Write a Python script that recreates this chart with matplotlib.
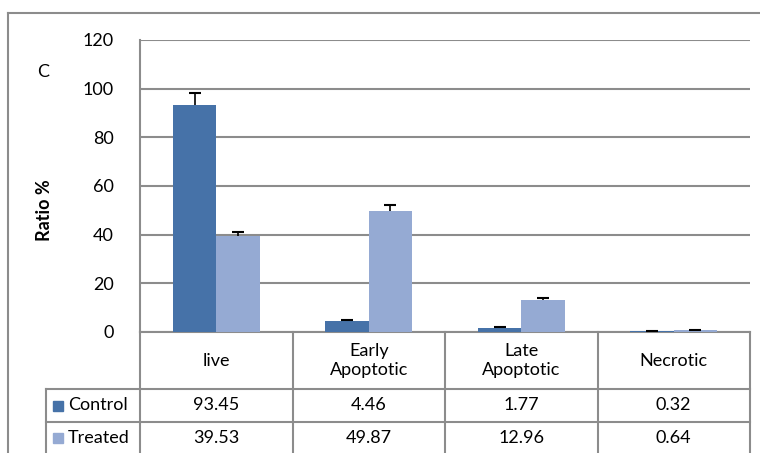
import matplotlib
matplotlib.use('Agg')
import matplotlib.pyplot as plt
from matplotlib.lines import Line2D
from matplotlib.patches import Rectangle
import numpy as np

plt.rcParams['font.family'] = ['Lato', 'DejaVu Sans']

categories = ['live', 'Early\nApoptotic', 'Late\nApoptotic', 'Necrotic']
series = ['Control', 'Treated']
control = [93.45, 4.46, 1.77, 0.32]
treated = [39.53, 49.87, 12.96, 0.64]
control_err = [4.8, 0.5, 0.3, 0.2]
treated_err = [1.6, 2.3, 1.0, 0.3]
colors = ['#4672A8', '#95AAD3']
grid_col = '#8c8c8c'
fs = 13

W, H = 760, 453
fig = plt.figure(figsize=(W / 100, H / 100), dpi=100)

def fx(x):
    return x / W

def fy(y):
    return 1 - y / H

# plot area in pixels
L, R, T, B = 140, 750, 40, 332
ax = fig.add_axes([fx(L), fy(B), (R - L) / W, (B - T) / H])

x = np.arange(len(categories))
bw = 0.285
for off, vals, errs, c in [(-bw / 2, control, control_err, colors[0]),
                           (bw / 2, treated, treated_err, colors[1])]:
    ax.bar(x + off, vals, bw, color=c, zorder=3)
    tops = np.array(vals) + np.array(errs)
    # plus-only error bars, like Excel
    ax.vlines(x + off, vals, tops, color='black', lw=1.2, zorder=4)
    ax.plot(x + off, tops, ls='none', marker='_', ms=9, mew=1.5,
            color='black', zorder=4)

ax.set_xlim(-0.5, 3.5)
ax.set_ylim(0, 120)
ax.set_yticks(range(0, 121, 20))
ax.set_xticks([])
ax.tick_params(axis='y', length=0, pad=19, labelsize=fs)
ax.yaxis.grid(True, color=grid_col, linewidth=1.5, zorder=0)
for s in ['top', 'right']:
    ax.spines[s].set_visible(False)
ax.spines['left'].set_color(grid_col)
ax.spines['left'].set_linewidth(1.5)
ax.spines['bottom'].set_color(grid_col)
ax.spines['bottom'].set_linewidth(1.5)

fig.text(fx(43), fy(72), 'C', fontsize=fs, ha='center', va='center')
fig.text(fx(45), fy(210), 'Ratio %', fontsize=fs, fontweight='bold',
         rotation=90, ha='center', va='center')

# outer frame
fig.add_artist(Line2D([fx(8), fx(8)], [fy(13), 0], color=grid_col, lw=1.5))
fig.add_artist(Line2D([fx(8), 1], [fy(13), fy(13)], color=grid_col, lw=1.5))

# data table below the chart
col_w = (R - L) / len(categories)
row_tops = [389, 422]
for xb in [L + col_w * i for i in range(len(categories) + 1)]:
    fig.add_artist(Line2D([fx(xb), fx(xb)], [fy(B), 0], color=grid_col, lw=1.5))
fig.add_artist(Line2D([fx(46), fx(46)], [fy(row_tops[0]), 0], color=grid_col, lw=1.5))
for yr in row_tops:
    fig.add_artist(Line2D([fx(46), fx(R)], [fy(yr), fy(yr)], color=grid_col, lw=1.5))

for i, cat in enumerate(categories):
    cx = L + col_w * (i + 0.5)
    fig.text(fx(cx), fy((B + row_tops[0]) / 2), cat, fontsize=fs,
             ha='center', va='center', linespacing=1.25)

rows = [control, treated]
row_centers = [(row_tops[0] + row_tops[1]) / 2, 438]
for r, (name, vals, yc) in enumerate(zip(series, rows, row_centers)):
    fig.add_artist(Rectangle((fx(53), fy(yc + 5)), 10 / W, 10 / H,
                             color=colors[r], transform=fig.transFigure))
    fig.text(fx(68), fy(yc), name, fontsize=fs, ha='left', va='center')
    for i, v in enumerate(vals):
        cx = L + col_w * (i + 0.5)
        fig.text(fx(cx), fy(yc), f'{v:.2f}', fontsize=fs, ha='center', va='center')

plt.savefig('out.png', dpi=100, facecolor='white')
plt.close()
